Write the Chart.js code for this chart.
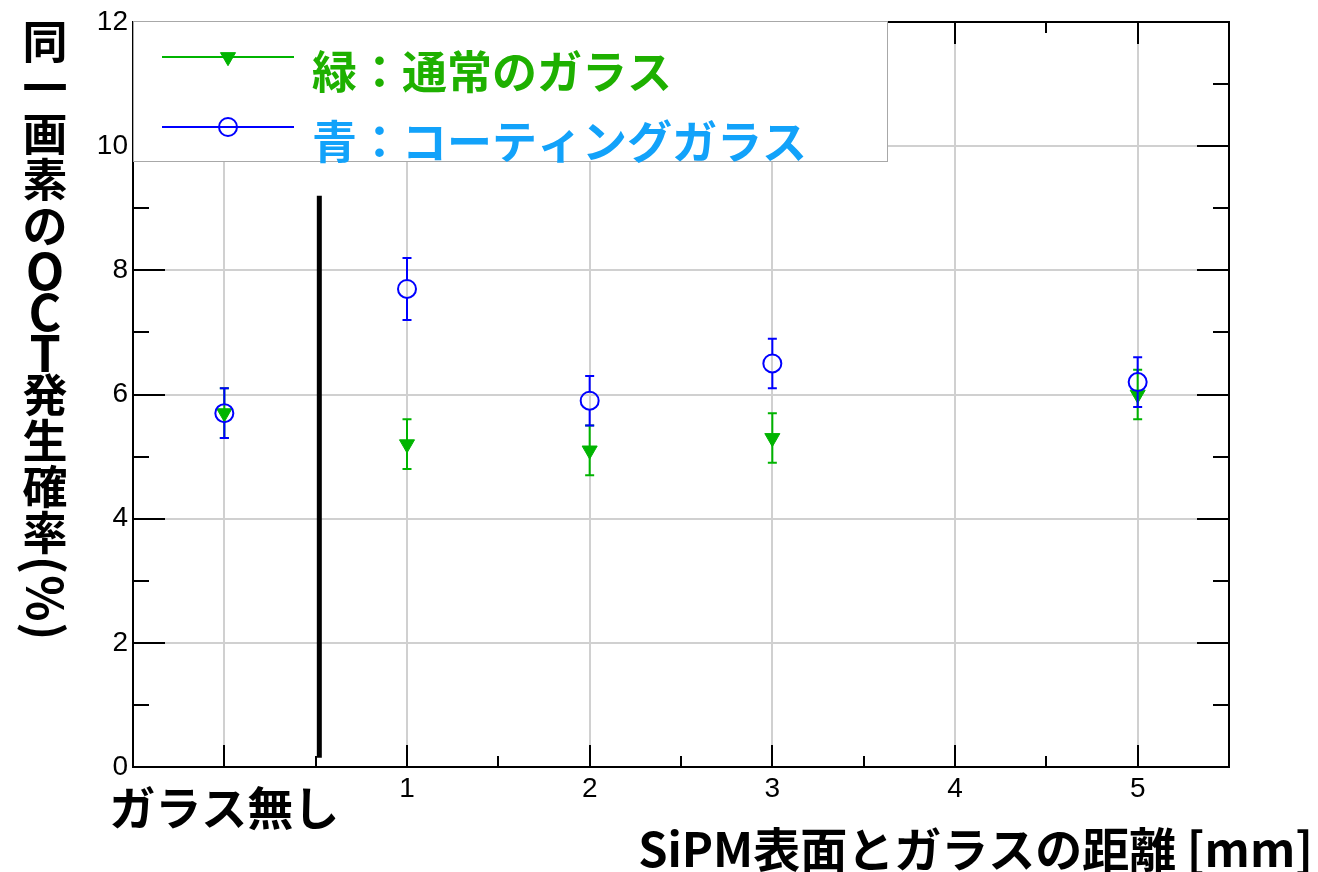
<!DOCTYPE html>
<html lang="ja">
<head>
<meta charset="utf-8">
<title>OCT発生確率</title>
<script src="https://cdn.jsdelivr.net/npm/chart.js@4.4.1/dist/chart.umd.min.js"></script>
<style>
  html, body { margin: 0; padding: 0; background: #ffffff; }
  #wrap { width: 1318px; height: 872px; }
  canvas { display: block; }
</style>
</head>
<body>
<div id="wrap"><canvas id="oct" width="1318" height="872"></canvas></div>
<script>
// Distance between SiPM surface and glass [mm]; 0 = no glass
const distances = [0, 1, 2, 3, 5];

// OCT probability in the same pixel (%) with uncertainties
const normalGlass = [5.7, 5.2, 5.1, 5.3, 6.0];
const normalGlassErr = [0.4, 0.4, 0.4, 0.4, 0.4];
const coatedGlass = [5.7, 7.7, 5.9, 6.5, 6.2];
const coatedGlassErr = [0.4, 0.5, 0.4, 0.4, 0.4];

const seriesLabels = ['緑：通常のガラス', '青：コーティングガラス'];
const xTickLabels = ['ガラス無し', '1', '2', '3', '4', '5'];
const xTickValues = [0, 1, 2, 3, 4, 5];
const yTickLabels = ['0', '2', '4', '6', '8', '10', '12'];
const xTitle = 'SiPM表面とガラスの距離 [mm]';
const yTitle = '同一画素のOCT発生確率(%)';

// separator between "no glass" and the glass measurements
const dividerX = 0.52;
const dividerRange = [0.15, 9.2];

const GREEN = '#00b400';
const BLUE = '#0000ff';
const GREEN_TEXT = '#1eb000';
const BLUE_TEXT = '#12a2fa';
const GRID = '#d0d0d0';
const JP = '"Noto Sans CJK JP", "Noto Sans", sans-serif';
const NUM = '"Liberation Sans", Arial, sans-serif';

function points(ys) {
  return distances.map((x, i) => ({ x: x, y: ys[i] }));
}

// error bars, drawn just before each dataset's markers
const errorBars = {
  id: 'errorBars',
  beforeDatasetDraw(chart, args) {
    const ds = chart.data.datasets[args.index];
    if (!ds.errors) return;
    const xs = chart.scales.x, ys = chart.scales.y, c = chart.ctx;
    const gap = ds.pointStyle === 'circle' ? ds.pointRadius : 0;
    c.save();
    c.strokeStyle = ds.pointBorderColor;
    c.lineWidth = 2;
    ds.data.forEach((p, i) => {
      const px = xs.getPixelForValue(p.x);
      const py = ys.getPixelForValue(p.y);
      const top = ys.getPixelForValue(p.y + ds.errors[i]);
      const bot = ys.getPixelForValue(p.y - ds.errors[i]);
      c.beginPath();
      c.moveTo(px, top); c.lineTo(px, py - gap);
      c.moveTo(px, py + gap); c.lineTo(px, bot);
      c.moveTo(px - 4.5, top); c.lineTo(px + 4.5, top);
      c.moveTo(px - 4.5, bot); c.lineTo(px + 4.5, bot);
      c.stroke();
    });
    c.restore();
  }
};

// frame with inward ticks on all four sides, and the separator line
const frame = {
  id: 'frame',
  afterDatasetsDraw(chart) {
    const a = chart.chartArea, c = chart.ctx;
    const xs = chart.scales.x, ys = chart.scales.y;
    c.save();
    c.strokeStyle = '#000';
    c.lineWidth = 2;
    c.strokeRect(a.left, a.top, a.right - a.left, a.bottom - a.top);
    c.beginPath();
    for (let v = -0.5; v <= 5.5001; v += 0.5) {
      const px = Math.round(xs.getPixelForValue(v));
      const len = Number.isInteger(v) ? 22 : 11;
      c.moveTo(px, a.bottom); c.lineTo(px, a.bottom - len);
      c.moveTo(px, a.top); c.lineTo(px, a.top + len);
    }
    for (let v = 0; v <= 12; v += 1) {
      const py = Math.round(ys.getPixelForValue(v));
      const len = v % 2 === 0 ? 32 : 16;
      c.moveTo(a.left, py); c.lineTo(a.left + len, py);
      c.moveTo(a.right, py); c.lineTo(a.right - len, py);
    }
    c.stroke();
    // separator
    c.lineWidth = 5;
    c.beginPath();
    const dx = xs.getPixelForValue(dividerX);
    c.moveTo(dx, ys.getPixelForValue(dividerRange[1]));
    c.lineTo(dx, ys.getPixelForValue(dividerRange[0]));
    c.stroke();
    c.restore();
  },
  afterDraw(chart) {
    const a = chart.chartArea, c = chart.ctx;
    const datasets = chart.data.datasets;
    c.save();
    // legend box
    const bx = a.left, by = 21, bw = 754, bh = 140;
    c.fillStyle = '#ffffff';
    c.fillRect(bx, by, bw, bh);
    c.strokeStyle = '#a8a8a8';
    c.lineWidth = 1;
    c.strokeRect(bx + 0.5, by + 0.5, bw, bh);
    const rows = [57, 127];
    const textColors = [GREEN_TEXT, BLUE_TEXT];
    datasets.forEach((ds, i) => {
      const y = rows[i];
      c.strokeStyle = ds.pointBorderColor;
      c.lineWidth = 2;
      c.beginPath();
      c.moveTo(162, y); c.lineTo(294, y);
      c.stroke();
      c.fillStyle = ds.pointBackgroundColor;
      c.strokeStyle = ds.pointBorderColor;
      c.lineWidth = ds.pointBorderWidth;
      Chart.helpers.drawPoint(c, {
        pointStyle: ds.pointStyle, rotation: ds.pointRotation || 0,
        radius: ds.pointRadius, borderWidth: ds.pointBorderWidth
      }, 228, y);
      c.font = 'bold 45px ' + JP;
      c.fillStyle = textColors[i];
      c.textAlign = 'left';
      c.textBaseline = 'middle';
      c.fillText(ds.label, 312, y + 15);
    });

    // x axis title
    c.fillStyle = '#000';
    c.font = 'bold 47px ' + JP;
    c.textAlign = 'right';
    c.textBaseline = 'middle';
    c.fillText(xTitle, 1313, 849);

    // y axis title, written vertically
    c.font = 'bold 45px ' + JP;
    c.textAlign = 'center';
    let cy = 19;
    const cx = 45;
    for (const ch of yTitle) {
      if (ch.charCodeAt(0) > 0x2e80) {
        c.fillText(ch, cx, cy + 23);
        cy += 46;
      } else if (/[A-Za-z]/.test(ch)) {
        c.save();
        c.font = 'bold 50px ' + JP;
        c.fillText(ch, cx, cy + 22);
        c.restore();
        cy += 41;
      } else {
        c.save();
        c.font = 'bold 48px ' + JP;
        const w = c.measureText(ch).width;
        c.translate(cx, cy + w / 2);
        c.rotate(Math.PI / 2);
        c.fillText(ch, 0, 0);
        c.restore();
        cy += w + 1;
      }
    }
    c.restore();
  }
};

new Chart(document.getElementById('oct'), {
  type: 'scatter',
  data: {
    datasets: [
      {
        label: seriesLabels[0],
        data: points(normalGlass),
        errors: normalGlassErr,
        pointStyle: 'triangle',
        pointRotation: 180,
        pointRadius: 8.7,
        pointBackgroundColor: GREEN,
        pointBorderColor: GREEN,
        pointBorderWidth: 1,
        order: 1
      },
      {
        label: seriesLabels[1],
        data: points(coatedGlass),
        errors: coatedGlassErr,
        pointStyle: 'circle',
        pointRadius: 9,
        pointBackgroundColor: 'rgba(0,0,0,0)',
        pointBorderColor: BLUE,
        pointBorderWidth: 2,
        order: 0
      }
    ]
  },
  options: {
    responsive: false,
    animation: false,
    devicePixelRatio: 1,
    layout: { padding: { top: 22, right: 89, left: 0, bottom: 0 } },
    plugins: { legend: { display: false }, tooltip: { enabled: false } },
    scales: {
      x: {
        type: 'linear',
        min: -0.5,
        max: 5.5,
        afterFit(s) { s.height = 105; },
        border: { display: false },
        grid: {
          drawTicks: false,
          lineWidth: 2,
          color: ctx => xTickValues.includes(ctx.tick.value) ? GRID : 'rgba(0,0,0,0)'
        },
        ticks: {
          stepSize: 0.5,
          autoSkip: false,
          maxRotation: 0,
          padding: 5,
          color: '#000',
          callback: v => {
            const i = xTickValues.indexOf(v);
            return i >= 0 ? xTickLabels[i] : '';
          },
          font: ctx => (ctx.tick && ctx.tick.value === 0)
            ? { family: JP, size: 46, weight: 'bold', lineHeight: 1.56 }
            : { family: NUM, size: 28, lineHeight: 1.2 }
        }
      },
      y: {
        min: 0,
        max: 12,
        afterFit(s) { s.width = 133; },
        border: { display: false },
        grid: {
          drawTicks: false,
          lineWidth: 2,
          color: ctx => {
            const v = ctx.tick.value;
            return (v > 0 && v < 12 && v % 2 === 0) ? GRID : 'rgba(0,0,0,0)';
          }
        },
        ticks: {
          stepSize: 1,
          padding: 5,
          color: '#000',
          font: { family: NUM, size: 28 },
          callback: v => (v % 2 === 0 ? yTickLabels[v / 2] : '')
        }
      }
    }
  },
  plugins: [errorBars, frame]
});
</script>
</body>
</html>
